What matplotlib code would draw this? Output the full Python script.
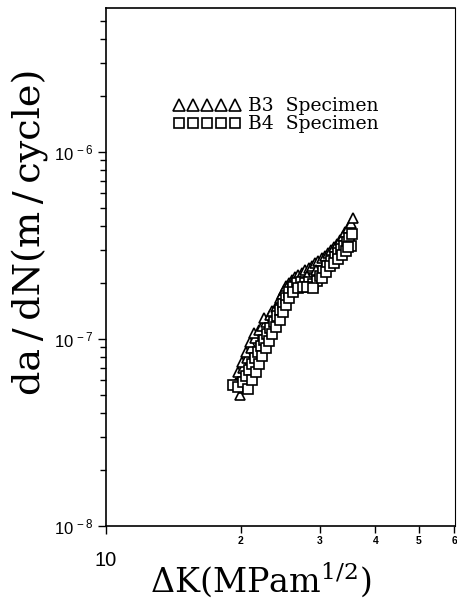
import matplotlib
matplotlib.use('Agg')
import matplotlib.pyplot as plt
from matplotlib.ticker import FixedLocator, FixedFormatter, NullFormatter

# B3 specimen (triangles): dK in MPa m^1/2, da/dN in m/cycle
b3_dk = [19.9, 19.5, 19.9, 19.7, 20.2, 20.1, 20.65, 20.5, 21.07, 21.0, 21.5, 21.4,
         21.95, 22.3, 22.76, 22.6, 23.2, 23.5, 23.96, 24.3, 24.5, 24.7, 24.97, 25.2,
         25.6, 26.0, 26.4, 26.8, 27.4, 27.8, 28.4, 28.8, 29.3, 29.7, 30.35, 30.8,
         31.3, 31.8, 32.3, 32.8, 33.3, 33.8, 34.2, 34.7, 35.2, 35.6,
         20.3, 20.75, 21.2, 21.73, 22.2, 23.0, 23.6, 24.5, 24.97, 25.5, 26.2, 27.1,
         28.2, 29.4, 30.7, 32.0, 33.3, 34.3, 35.0]
b3_rate = [5.0e-8, 5.82e-8, 6.18e-8, 6.66e-8, 7.0e-8, 7.53e-8, 7.91e-8, 8.52e-8,
           8.95e-8, 9.64e-8, 1.013e-7, 1.077e-7, 1.117e-7, 1.174e-7, 1.233e-7,
           1.296e-7, 1.344e-7, 1.413e-7, 1.483e-7, 1.558e-7, 1.657e-7, 1.74e-7,
           1.828e-7, 1.92e-7, 1.994e-7, 2.068e-7, 2.145e-7, 2.199e-7, 2.254e-7,
           2.339e-7, 2.397e-7, 2.457e-7, 2.549e-7, 2.614e-7, 2.712e-7, 2.779e-7,
           2.883e-7, 2.992e-7, 3.104e-7, 3.22e-7, 3.384e-7, 3.555e-7, 3.735e-7,
           3.924e-7, 4.17e-7, 4.44e-7,
           5.47e-8, 6.34e-8, 7.35e-8, 8.52e-8, 9.88e-8, 1.117e-7, 1.264e-7,
           1.447e-7, 1.617e-7, 1.783e-7, 1.922e-7, 2.043e-7, 2.173e-7, 2.339e-7,
           2.487e-7, 2.712e-7, 2.992e-7, 3.26e-7, 3.598e-7]

# B4 specimen (squares)
b4_dk = [19.2, 19.7, 20.2, 20.54, 20.85, 21.2, 21.5, 21.84, 22.2, 22.5, 22.9, 23.2,
         23.7, 24.1, 24.5, 24.85, 25.2, 25.6, 26.2, 26.7, 27.25, 27.8, 28.4, 29.0,
         29.6, 30.05, 30.5, 31.1, 31.8, 32.45, 32.95, 33.5, 33.98, 34.5, 35.0, 35.4,
         35.2,
         20.75, 21.2, 21.6, 21.95, 22.3, 22.76, 23.1, 23.5, 23.96, 24.5, 24.85, 25.2,
         25.6, 26.2, 26.8, 27.5, 28.2, 29.0, 30.35, 31.0, 31.6, 32.3, 32.95, 33.6,
         34.3, 34.8]
b4_rate = [5.68e-8, 5.54e-8, 5.88e-8, 6.34e-8, 6.83e-8, 7.35e-8, 7.91e-8, 8.52e-8,
           9.18e-8, 9.88e-8, 1.064e-7, 1.145e-7, 1.233e-7, 1.328e-7, 1.43e-7,
           1.539e-7, 1.657e-7, 1.783e-7, 1.898e-7, 1.994e-7, 2.02e-7, 1.994e-7,
           2.02e-7, 1.968e-7, 2.043e-7, 2.173e-7, 2.31e-7, 2.457e-7, 2.614e-7,
           2.744e-7, 2.883e-7, 3.03e-7, 3.144e-7, 3.30e-7, 3.469e-7, 3.64e-7,
           3.144e-7,
           5.40e-8, 6.03e-8, 6.66e-8, 7.35e-8, 8.11e-8, 8.95e-8, 9.76e-8, 1.064e-7,
           1.159e-7, 1.264e-7, 1.395e-7, 1.52e-7, 1.657e-7, 1.783e-7, 1.874e-7,
           1.898e-7, 1.898e-7, 1.874e-7, 2.12e-7, 2.282e-7, 2.457e-7, 2.549e-7,
           2.678e-7, 2.813e-7, 2.956e-7, 3.104e-7]

x_minor = [20, 30, 40, 50, 60]
x_minor_labels = ['2', '3', '4', '5', '6']
y_major = [1e-8, 1e-7, 1e-6]
y_major_labels = ['10$^{\\,-8}$', '10$^{\\,-7}$', '10$^{\\,-6}$']

plt.rcParams['mathtext.fontset'] = 'dejavuserif'
plt.rcParams['mathtext.default'] = 'regular'

fig = plt.figure(figsize=(4.57, 6.01), dpi=100)
ax = fig.add_axes([0.232, 0.125, 0.764, 0.862])

ax.plot(b3_dk, b3_rate, ls='none', marker='^', ms=7.5, mfc='white', mec='black',
        mew=1.2, label='B3  Specimen')
ax.plot(b4_dk, b4_rate, ls='none', marker='s', ms=6.8, mfc='white', mec='black',
        mew=1.2, label='B4  Specimen')

ax.set_xscale('log')
ax.set_yscale('log')
ax.set_xlim(10, 60.3)
ax.set_ylim(1e-8, 5.9e-6)

# x axis: big "10" at the decade, small digits for 20..60
ax.xaxis.set_major_locator(FixedLocator([10]))
ax.xaxis.set_major_formatter(FixedFormatter(['10']))
ax.xaxis.set_minor_locator(FixedLocator(x_minor))
ax.xaxis.set_minor_formatter(FixedFormatter(x_minor_labels))
ax.tick_params(axis='x', which='major', direction='out', length=6, width=1,
               pad=12, labelsize=14.5)
ax.tick_params(axis='x', which='minor', direction='out', length=5, width=1,
               pad=2, labelsize=7.5)
for lab in ax.get_xticklabels():
    lab.set_fontfamily('Liberation Sans')
for lab in ax.get_xticklabels(minor=True):
    lab.set_fontfamily('Liberation Sans')
    lab.set_fontweight('bold')

ax.yaxis.set_major_locator(FixedLocator(y_major))
ax.yaxis.set_major_formatter(FixedFormatter(y_major_labels))
ax.yaxis.set_minor_locator(FixedLocator(
    [m * 10.0 ** e for e in (-8, -7, -6) for m in range(2, 10) if m * 10.0 ** e < 5.9e-6]))
ax.yaxis.set_minor_formatter(NullFormatter())
ax.tick_params(axis='y', which='major', direction='out', length=6, width=1,
               pad=3, labelsize=12)
ax.tick_params(axis='y', which='minor', direction='out', length=4, width=1)
for lab in ax.get_yticklabels():
    lab.set_fontfamily('Liberation Sans')

for sp in ax.spines.values():
    sp.set_linewidth(1.2)
ax.spines['right'].set_linewidth(0.8)

ax.set_xlabel('$\\mathit{\\Delta}$K(MPam$^{1/2}$)', family='DejaVu Serif',
              fontsize=24)
ax.xaxis.set_label_coords(0.444, -0.066)
ax.set_ylabel('da\u2009/\u2009dN(m\u2009/\u2009cycle)', family='DejaVu Serif',
              fontsize=27.5)
ax.yaxis.set_label_coords(-0.163, 0.568)

ax.legend(loc='upper left', bbox_to_anchor=(0.165, 0.845), numpoints=5,
          handlelength=3.6, handletextpad=0.4, labelspacing=0.0, frameon=False,
          markerscale=1.1, prop={'family': 'DejaVu Serif', 'size': 13.5},
          borderpad=0)

fig.savefig('out.png', dpi=100)
